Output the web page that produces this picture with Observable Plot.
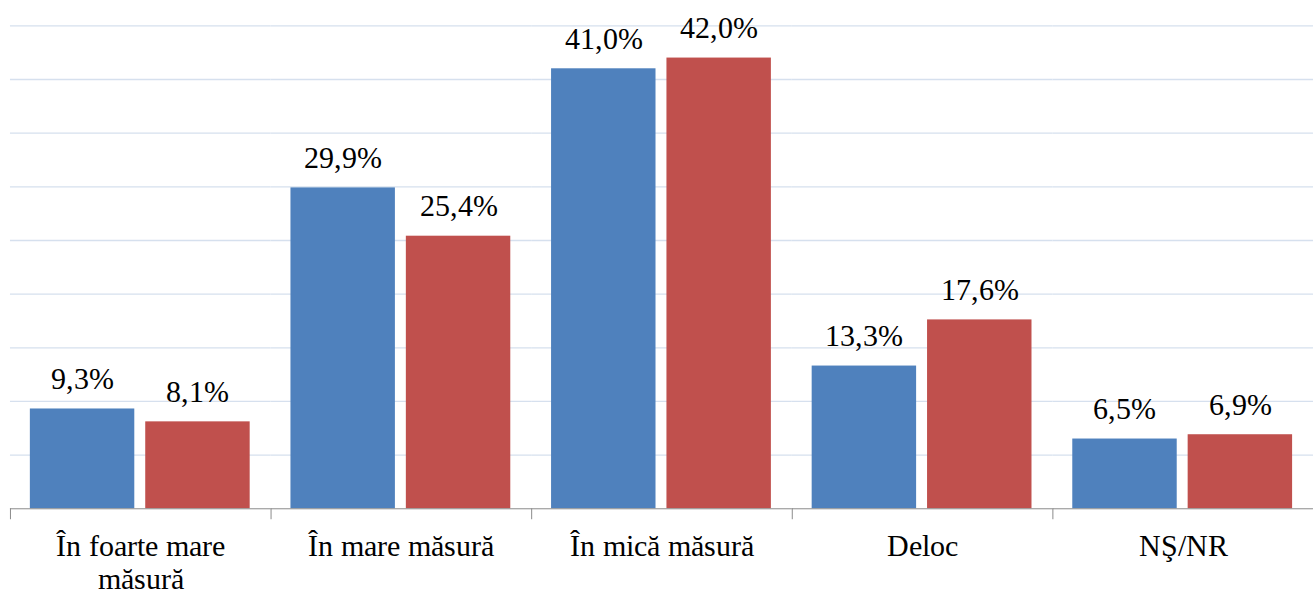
<!DOCTYPE html>
<html>
<head>
<meta charset="utf-8">
<script src="https://cdn.jsdelivr.net/npm/d3@7"></script>
<script src="https://cdn.jsdelivr.net/npm/@observablehq/plot@0.6"></script>
<style>
  @font-face { font-family: "ChartSerif"; src: local("Liberation Serif"), local("LiberationSerif"), local("Liberation Serif Regular"), local("LiberationSerif-Regular"); }
  html, body { margin: 0; padding: 0; background: #fff; }
  #chart { width: 1313px; height: 596px; overflow: hidden; }
  #chart svg, #chart svg text, #chart svg tspan { font-family: "ChartSerif", "Liberation Serif", "Times New Roman", serif !important; }
</style>
</head>
<body>
<div id="chart"></div>
<script>
const categories = ["În foarte mare măsură", "În mare măsură", "În mică măsură", "Deloc", "NŞ/NR"];
const tickLabels = ["În foarte mare\nmăsură", "În mare măsură", "În mică măsură", "Deloc", "NŞ/NR"];
const seriesNames = ["Seria 1", "Seria 2"];
const series1 = [9.3, 29.9, 41.0, 13.3, 6.5];
const series2 = [8.1, 25.4, 42.0, 17.6, 6.9];
const seriesColors = ["#4F81BD", "#C0504D"];
const gridTicks = [5, 10, 15, 20, 25, 30, 35, 40, 45];

const data = [];
categories.forEach((c, i) => {
  data.push({cat: c, series: seriesNames[0], value: series1[i]});
  data.push({cat: c, series: seriesNames[1], value: series2[i]});
});
const fmt = v => v.toFixed(1).replace(".", ",") + "%";
const serifStack = "ChartSerif, Liberation Serif, Times New Roman, serif";

const chart = Plot.plot({
  width: 1320,
  height: 596,
  marginLeft: 10,
  marginRight: 0,
  marginTop: 25.5,
  marginBottom: 85,
  style: {fontFamily: serifStack},
  fx: {domain: categories, padding: 0, axis: null, label: null},
  x: {domain: seriesNames, paddingInner: 0.094, paddingOuter: 0.171, axis: null, label: null},
  y: {domain: [0, 45], axis: null},
  color: {domain: seriesNames, range: seriesColors},
  marks: [
    Plot.gridY({ticks: gridTicks, stroke: "#d6e0ee", strokeOpacity: 1, strokeWidth: 1.3}),
    Plot.barY(data, {fx: "cat", x: "series", y: "value", fill: "series"}),
    Plot.ruleY([0], {stroke: "#8a8a8a", strokeWidth: 1}),
    Plot.frame({anchor: "left", stroke: "#8a8a8a", strokeWidth: 1, insetTop: 485.5, insetBottom: -10}),
    Plot.text(data, {fx: "cat", x: "series", y: "value", text: d => fmt(d.value), dy: -20, lineAnchor: "bottom",
      fontSize: 30, fontFamily: serifStack, fill: "#000"}),
    Plot.axisFx({anchor: "bottom", tickSize: 0, tickPadding: 24, fontSize: 30, fontFamily: serifStack, lineHeight: 1.1, label: null,
      fill: "#000", tickFormat: c => tickLabels[categories.indexOf(c)]})
  ]
});
document.getElementById("chart").appendChild(chart);
</script>
</body>
</html>
